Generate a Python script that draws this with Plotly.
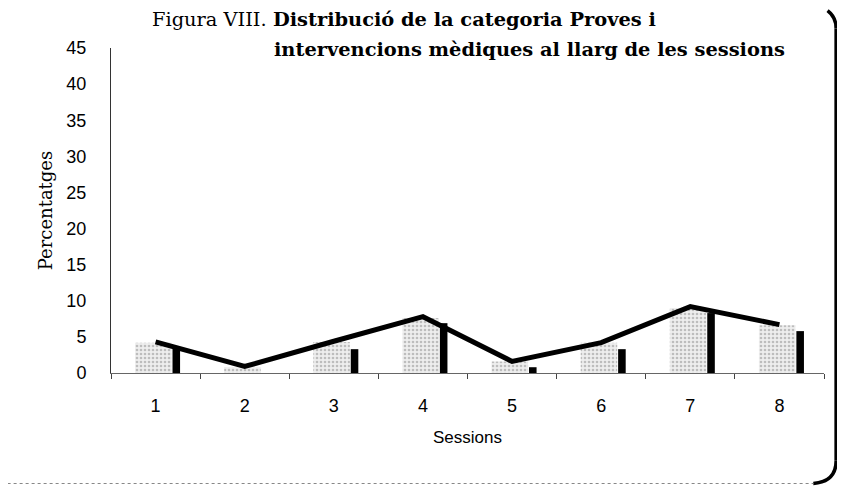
import plotly.graph_objects as go

# Data
sessions = ['1', '2', '3', '4', '5', '6', '7', '8']
proves = [4.2, 0.8, 4.3, 7.6, 1.6, 4.2, 9.0, 6.6]
intervencions = [3.6, 0.0, 3.3, 6.9, 0.8, 3.3, 8.3, 5.8]
total = [4.3, 0.9, 4.4, 7.8, 1.6, 4.2, 9.2, 6.7]
y_ticks = [0, 5, 10, 15, 20, 25, 30, 35, 40, 45]

serif = 'DejaVu Serif, serif'
narrow = 'Liberation Sans Narrow, Liberation Sans, Arial, sans-serif'

fig = go.Figure()

# stippled grey bars
fig.add_trace(go.Bar(
    x=sessions, y=proves,
    offset=-0.23, width=0.41,
    marker=dict(color='#ededed', line=dict(width=0),
                pattern=dict(shape='.', fgcolor='#8c8c8c', bgcolor='#eeeeee',
                             size=4, solidity=0.35)),
    showlegend=False,
))

# thin black bars
fig.add_trace(go.Bar(
    x=sessions, y=intervencions,
    offset=0.19, width=0.085,
    marker=dict(color='black', line=dict(width=0)),
    showlegend=False,
))

# thick black line
fig.add_trace(go.Scatter(
    x=sessions, y=total, mode='lines',
    line=dict(color='black', width=5),
    showlegend=False,
))

# the page body has an 8px margin, so the figure is 8px smaller than the window
fig.update_layout(
    width=837, height=489,
    margin=dict(l=103, r=21, t=40, b=124, autoexpand=False),
    paper_bgcolor='white', plot_bgcolor='white',
    barmode='overlay',
    font=dict(family=narrow, color='black', size=18),
)

fig.update_xaxes(
    type='category', automargin=False,
    showline=True, linecolor='#666', linewidth=1,
    ticks='outside', tickson='boundaries', ticklen=5, tickcolor='#444',
    showgrid=False, zeroline=False,
    tickfont=dict(family=narrow, size=18),
    ticklabelstandoff=16,
    title=dict(text='Sessions', font=dict(family=narrow, size=17), standoff=16),
)

fig.update_yaxes(
    range=[0, 45], tickvals=y_ticks, automargin=False,
    showline=True, linecolor='#333', linewidth=1,
    ticks='', showgrid=False, zeroline=False,
    tickfont=dict(family=narrow, size=18),
    ticklabelstandoff=20,
    title=dict(text='Percentatges', font=dict(family=serif, size=18), standoff=9),
)

# title in two lines, as in the scanned figure
fig.add_annotation(
    text='Figura VIII. <b>Distribució de la categoria Proves i</b>',
    xref='paper', yref='paper', x=(150 - 111) / 713, y=(373 - 19) / 325,
    xanchor='left', yanchor='middle', showarrow=False,
    font=dict(family=serif, size=19.4, color='black'),
)
fig.add_annotation(
    text='<b>intervencions mèdiques al llarg de les sessions</b>',
    xref='paper', yref='paper', x=(272 - 111) / 713, y=(373 - 49) / 325,
    xanchor='left', yanchor='middle', showarrow=False,
    font=dict(family=serif, size=19.4, color='black'),
)

# page frame from the scan: heavy right edge with rounded corners, dotted bottom
fig.add_shape(
    type='line', xref='paper', yref='paper',
    x0=1.017, x1=1.017, y0=1.06, y1=-0.27,
    line=dict(color='black', width=3.5),
)
fig.add_shape(
    type='path', xref='paper', yref='paper',
    path='M 1.005 1.115 Q 1.017 1.095 1.017 1.06',
    line=dict(color='black', width=3.5),
)
fig.add_shape(
    type='path', xref='paper', yref='paper',
    path='M 1.017 -0.27 Q 1.017 -0.335 0.985 -0.34',
    line=dict(color='black', width=3.5),
)
fig.add_shape(
    type='line', xref='paper', yref='paper',
    x0=-0.145, x1=0.985, y0=-0.34, y1=-0.34,
    line=dict(color='#888', width=1, dash='dot'),
)
fig.add_shape(
    type='line', xref='paper', yref='paper',
    x0=-0.152, x1=-0.152, y0=1.1, y1=-0.3,
    line=dict(color='#aaa', width=1, dash='dot'),
)

fig.write_html('out.html')
